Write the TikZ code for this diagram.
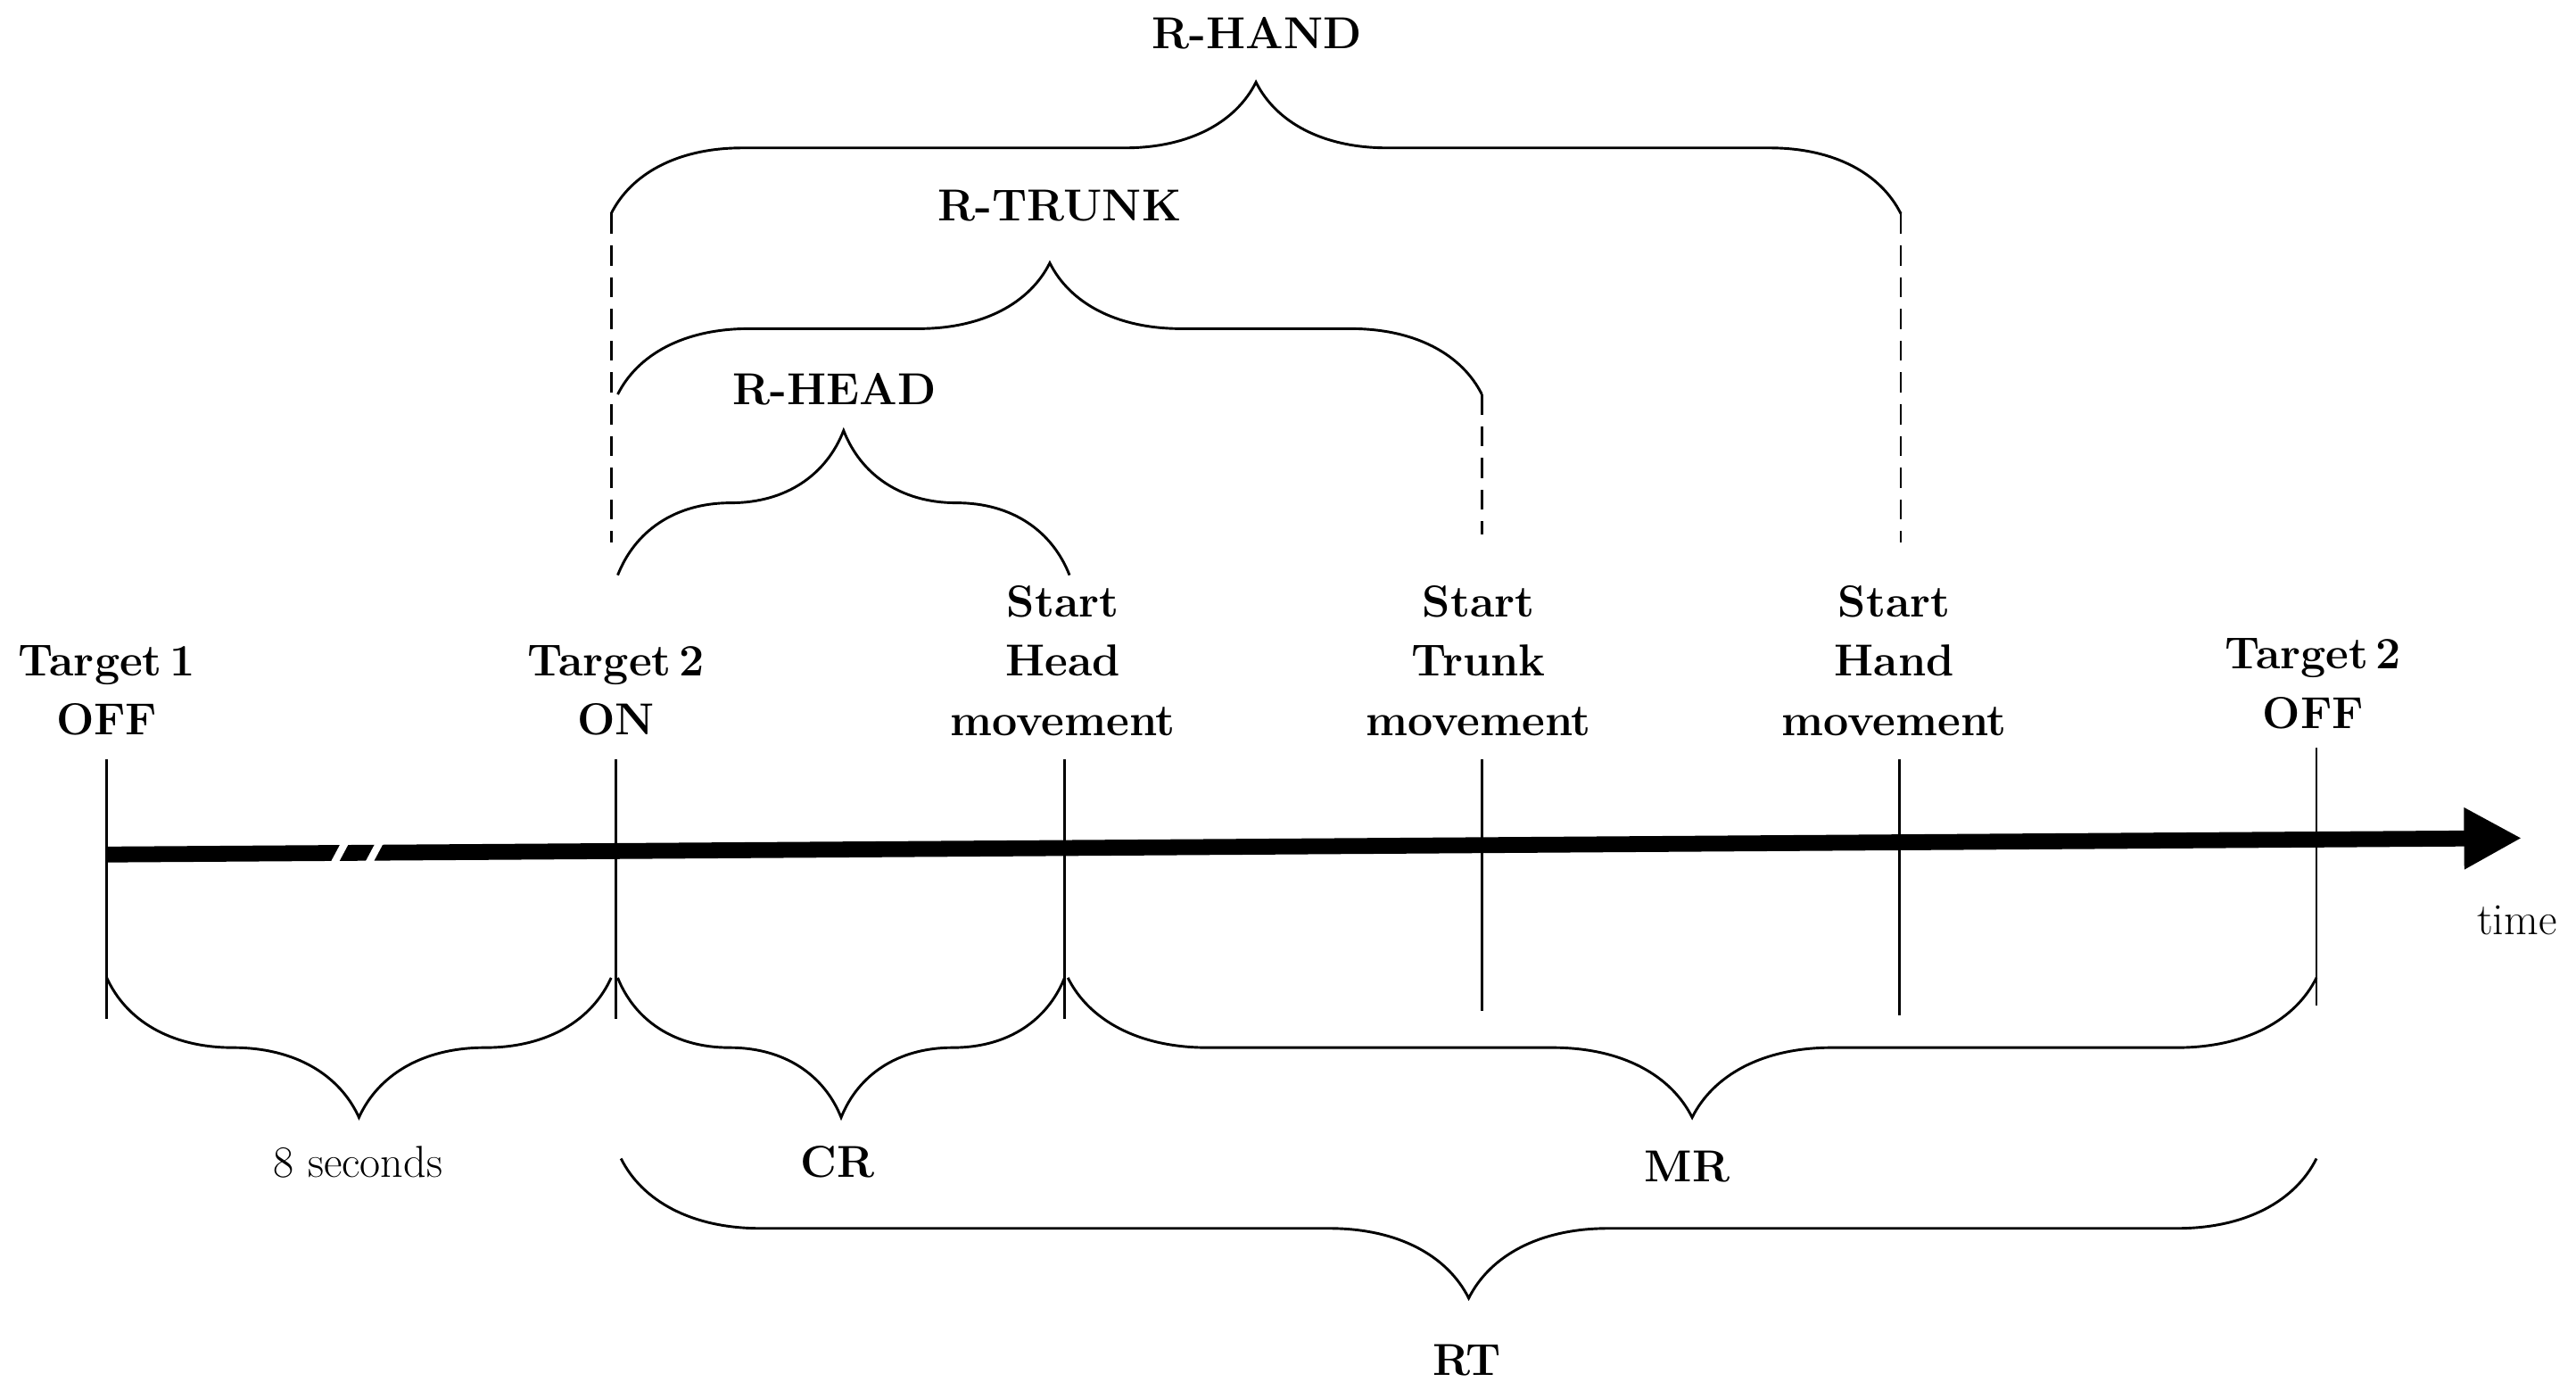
\documentclass[tikz,border=0pt]{standalone}
\usetikzlibrary{decorations.pathreplacing,arrows.meta}
\begin{document}
\begin{tikzpicture}[x=0.02cm,y=-0.02cm,
  lbl/.style={font=\fontsize{15.5}{20.5}\selectfont\bfseries,align=center},
  nl/.style={font=\fontsize{15.5}{20.5}\selectfont,align=center},
  br/.style={decorate,decoration={brace,amplitude=#1},line width=0.9pt},
  tick/.style={line width=0.9pt},
  dsh/.style={line width=0.9pt,dash pattern=on 7pt off 4pt}]
\useasboundingbox (0,0) rectangle (1568,851);
% axis
\coordinate (a0) at (65,520);
\coordinate (a1) at (1535,510);
\draw[line width=5.5pt,-{Triangle[length=20pt,width=20pt]}] (a0) -- (a1);
\fill[white] (200,527) -- (208,512) -- (213,512) -- (205,527) -- cycle;
\fill[white] (221,527) -- (229,512) -- (234,512) -- (226,527) -- cycle;
\node[nl] (time) at (1532,560) {time};
% ticks
\coordinate (t1a) at (65,462); \coordinate (t1b) at (65,620);
\coordinate (t2a) at (375,462); \coordinate (t2b) at (375,620);
\coordinate (t3a) at (648,462); \coordinate (t3b) at (648,620);
\coordinate (t4a) at (902,462); \coordinate (t4b) at (902,615);
\coordinate (t5a) at (1156,462); \coordinate (t5b) at (1156,618);
\coordinate (t6a) at (1410,455); \coordinate (t6b) at (1410,612);
\foreach \i in {1,...,6}{\draw[tick] (t\i a) -- (t\i b);}
% labels
\node[lbl] (T1) at (65,420) {Target\,1\\OFF};
\node[lbl] (T2) at (375,420) {Target\,2\\ON};
\node[lbl] (SH) at (647,402) {Start\\Head\\movement};
\node[lbl] (ST) at (900,402) {Start\\Trunk\\movement};
\node[lbl] (SN) at (1153,402) {Start\\Hand\\movement};
\node[lbl] (T3) at (1408,416) {Target\,2\\OFF};
% top braces
\coordinate (h1) at (372,130); \coordinate (h2) at (1157,130);
\draw[br=1.6cm] (h1) -- (h2);
\node[lbl] (RHAND) at (765,20) {R-HAND};
\coordinate (h1d) at (372,330); \coordinate (h2d) at (1157,330);
\draw[dsh] (h1) -- (h1d); \draw[dsh] (h2) -- (h2d);
\coordinate (k1) at (376,240); \coordinate (k2) at (902,240);
\draw[br=1.6cm] (k1) -- (k2);
\node[lbl] (RTRUNK) at (645,125) {R-TRUNK};
\coordinate (k2d) at (902,325);
\draw[dsh] (k2) -- (k2d);
\coordinate (e1) at (376,350); \coordinate (e2) at (651,350);
\draw[br=1.76cm] (e1) -- (e2);
\node[lbl] (RHEAD) at (508,237) {R-HEAD};
% bottom braces
\coordinate (b1) at (65,595); \coordinate (b2) at (372,595);
\draw[br=1.7cm] (b2) -- (b1);
\node[nl] (s8) at (218,707) {8 seconds};
\coordinate (c1) at (376,595); \coordinate (c2) at (648,595);
\draw[br=1.7cm] (c2) -- (c1);
\node[lbl] (CR) at (510,707) {CR};
\coordinate (m1) at (650,595); \coordinate (m2) at (1410,595);
\draw[br=1.7cm] (m2) -- (m1);
\node[lbl] (MR) at (1027,710) {MR};
\coordinate (r1) at (378,705); \coordinate (r2) at (1410,705);
\draw[br=1.7cm] (r2) -- (r1);
\node[lbl] (RT) at (893,828) {RT};
\end{tikzpicture}
\end{document}
